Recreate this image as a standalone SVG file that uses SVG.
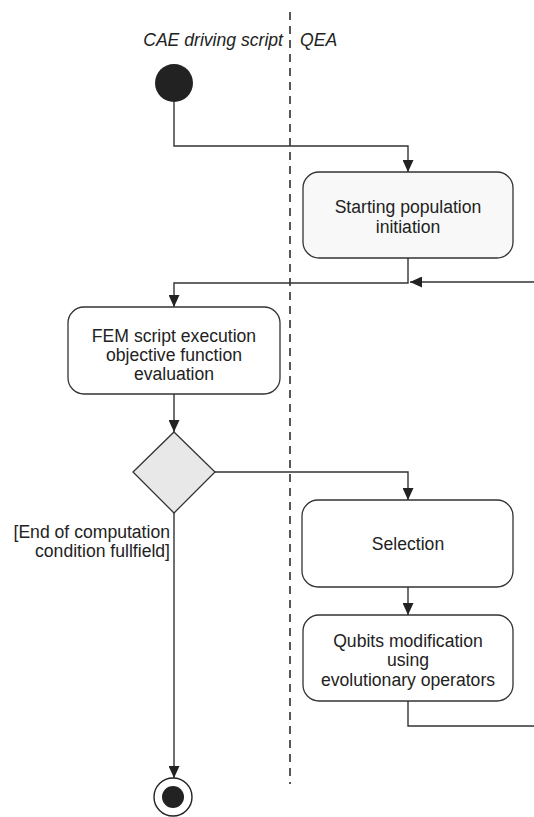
<svg xmlns="http://www.w3.org/2000/svg" width="534" height="817" viewBox="0 0 534 817">
<style>
  text { font-family: "Liberation Sans", Arial, sans-serif; font-size: 17.6px; fill: #222; }
  .lbl { text-anchor: middle; }
  .lane { font-style: italic; }
  .box { stroke: #333; stroke-width: 1.3; fill: #fff; }
  .edge { fill: none; stroke: #333; stroke-width: 1.4; }
</style>
<defs>
  <marker id="arr" viewBox="0 0 12 11" refX="12" refY="5.5" markerWidth="12" markerHeight="11" markerUnits="userSpaceOnUse" orient="auto">
    <path d="M0,0 L12,5.5 L0,11 z" fill="#222"/>
  </marker>
</defs>
<rect width="534" height="817" fill="#fff"/>
<g id="lanes">
  <line x1="290" y1="12" x2="290" y2="784" stroke="#222" stroke-width="1.5" stroke-dasharray="8 6"/>
  <text class="lane" x="283" y="46" text-anchor="end">CAE driving script</text>
  <text class="lane" x="300" y="46">QEA</text>
</g>
<g id="connectors">
  <path class="edge" d="M174,102 V146 H408 V172" marker-end="url(#arr)"/>
  <path class="edge" d="M408,258 V283 H174 V307" marker-end="url(#arr)"/>
  <path class="edge" d="M534,282 H410" marker-end="url(#arr)"/>
  <path class="edge" d="M174,394 V432" marker-end="url(#arr)"/>
  <path class="edge" d="M215,472 H408 V500" marker-end="url(#arr)"/>
  <path class="edge" d="M408,587 V615" marker-end="url(#arr)"/>
  <path class="edge" d="M408,701 V726 H534"/>
  <path class="edge" d="M174,513 V778" marker-end="url(#arr)"/>
</g>
<g id="start">
  <circle cx="174" cy="83" r="19" fill="#222"/>
</g>
<g id="init">
  <rect class="box" x="303" y="172" width="210" height="86" rx="16" style="fill:#f8f8f8"/>
  <text class="lbl" x="408" y="213">Starting population</text>
  <text class="lbl" x="408" y="233">initiation</text>
</g>
<g id="fem">
  <rect class="box" x="68" y="307" width="212" height="87" rx="16"/>
  <text class="lbl" x="174" y="342">FEM script execution</text>
  <text class="lbl" x="174" y="361">objective function</text>
  <text class="lbl" x="174" y="380">evaluation</text>
</g>
<g id="decision">
  <polygon points="174,432 215,472 174,513 133,472" fill="#e8e8e8" stroke="#333" stroke-width="1.3"/>
  <text x="170" y="538" text-anchor="end">[End of computation</text>
  <text x="170" y="557" text-anchor="end">condition fullfield]</text>
</g>
<g id="selection">
  <rect class="box" x="302" y="500" width="211" height="87" rx="16"/>
  <text class="lbl" x="408" y="550">Selection</text>
</g>
<g id="qubits">
  <rect class="box" x="303" y="615" width="210" height="86" rx="16"/>
  <text class="lbl" x="408" y="647">Qubits modification</text>
  <text class="lbl" x="408" y="666">using</text>
  <text class="lbl" x="408" y="686">evolutionary operators</text>
</g>
<g id="end">
  <circle cx="173" cy="797" r="19" fill="#fff" stroke="#222" stroke-width="1.4"/>
  <circle cx="173" cy="797" r="11" fill="#222"/>
</g>
</svg>
